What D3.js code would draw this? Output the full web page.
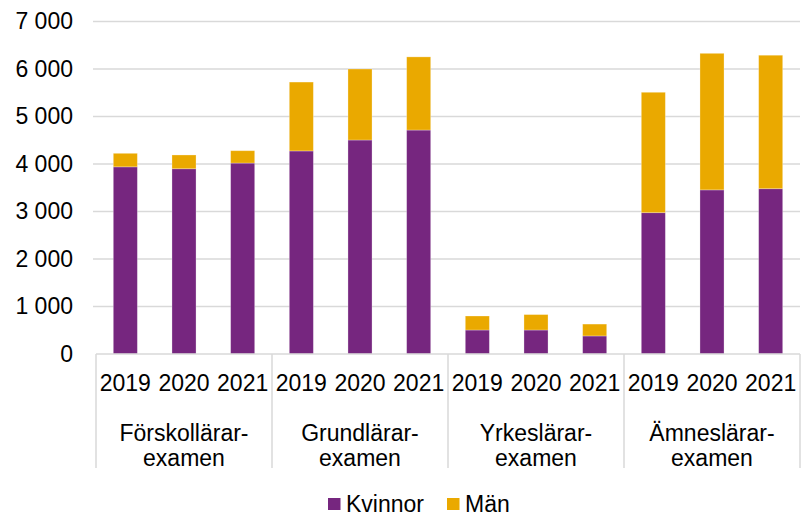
<!DOCTYPE html>
<html>
<head>
<meta charset="utf-8">
<script src="https://cdn.jsdelivr.net/npm/d3@7"></script>
<style>
  body { margin: 0; background: #fff; }
  text { font-family: "Liberation Sans", Arial, sans-serif; fill: #000; }
</style>
</head>
<body>
<div id="chart"></div>
<script>
'use strict';

// data
var groups = ['Förskollärar-|examen', 'Grundlärar-|examen', 'Yrkeslärar-|examen', 'Ämneslärar-|examen'];
var years = ['2019', '2020', '2021'];
var kvinnor = [
  [3940, 3900, 4020],
  [4275, 4505, 4715],
  [505, 505, 380],
  [2975, 3455, 3480]
];
var man = [
  [285, 290, 260],
  [1450, 1495, 1540],
  [295, 325, 250],
  [2535, 2875, 2810]
];
var yTicks = [0, 1000, 2000, 3000, 4000, 5000, 6000, 7000];
var seriesNames = ['Kvinnor', 'Män'];
var colors = ['#76267f', '#eaa900'];

var W = 803, H = 516;
var margin = {top: 21.5, right: 3, bottom: 162, left: 96};
var width = W - margin.left - margin.right,
    height = H - margin.top - margin.bottom;
var fs = '23px';

var svg = d3.select('#chart').append('svg')
    .attr('width', W)
    .attr('height', H);

var g = svg.append('g')
    .attr('transform', 'translate(' + margin.left + ',' + margin.top + ')');

var x0 = d3.scaleBand().domain(d3.range(groups.length)).range([0, width]);
var x1 = d3.scaleBand().domain(years).range([0, x0.bandwidth()]).paddingInner(0.59).paddingOuter(0.295);
var y = d3.scaleLinear().domain([0, 7000]).range([height, 0]);

var fmt = d3.formatLocale({decimal: ',', thousands: ' ', grouping: [3], currency: ['', '']}).format(',d');

// gridlines
g.append('g')
  .selectAll('line')
  .data(yTicks.slice(1))
  .enter().append('line')
    .attr('x1', -3).attr('x2', width)
    .attr('y1', function(d) { return y(d); })
    .attr('y2', function(d) { return y(d); })
    .attr('stroke', '#d9d9d9')
    .attr('stroke-width', 1.5);

// y axis labels
var yAxis = g.append('g')
    .call(d3.axisLeft(y).tickValues(yTicks).tickFormat(fmt).tickSize(0).tickPadding(23));
yAxis.select('.domain').remove();
yAxis.selectAll('text').style('font-size', fs).attr('fill', '#000')
    .style('font-family', '"Liberation Sans", Arial, sans-serif');

// build stacked rows
var rows = [];
groups.forEach(function(gr, gi) {
  years.forEach(function(yr, yi) {
    rows.push({g: gi, year: yr, values: [kvinnor[gi][yi], man[gi][yi]]});
  });
});

var stack = d3.stack().keys([0, 1]).value(function(d, k) { return d.values[k]; });
var stacked = stack(rows);

g.append('g')
  .selectAll('g')
  .data(stacked)
  .enter().append('g')
    .attr('fill', function(d, i) { return colors[i]; })
  .selectAll('rect')
  .data(function(d) { return d; })
  .enter().append('rect')
    .attr('x', function(d) { return x0(d.data.g) + x1(d.data.year); })
    .attr('width', x1.bandwidth())
    .attr('y', function(d) { return y(d[1]); })
    .attr('height', function(d) { return y(d[0]) - y(d[1]); })
    .attr('stroke', 'rgba(255,255,255,0.35)')
    .attr('stroke-width', 0.8);

// category axis
var axis = g.append('g').attr('transform', 'translate(0,' + height + ')');
axis.append('line')
    .attr('x1', 0).attr('x2', width)
    .attr('stroke', '#d9d9d9').attr('stroke-width', 1.5);
axis.selectAll('.sep')
  .data(d3.range(groups.length + 1))
  .enter().append('line')
    .attr('class', 'sep')
    .attr('x1', function(d) { return d < groups.length ? x0(d) : width; })
    .attr('x2', function(d) { return d < groups.length ? x0(d) : width; })
    .attr('y1', 0).attr('y2', 114)
    .attr('stroke', '#d9d9d9').attr('stroke-width', 1.5);

axis.selectAll('.yr')
  .data(rows)
  .enter().append('text')
    .attr('class', 'yr')
    .attr('x', function(d) { return x0(d.g) + x1(d.year) + x1.bandwidth() / 2; })
    .attr('y', 37)
    .attr('text-anchor', 'middle')
    .style('font-size', fs)
    .text(function(d) { return d.year; });

var gl = axis.selectAll('.grp')
  .data(groups)
  .enter().append('text')
    .attr('class', 'grp')
    .attr('text-anchor', 'middle')
    .style('font-size', fs);
gl.selectAll('tspan')
  .data(function(d, i) { return d.split('|').map(function(s, j) { return {s: s, i: i, j: j}; }); })
  .enter().append('tspan')
    .attr('x', function(d) { return x0(d.i) + x0.bandwidth() / 2; })
    .attr('y', function(d) { return 87 + d.j * 24.5; })
    .text(function(d) { return d.s; });

// legend
var legend = svg.append('g').attr('transform', 'translate(328,498)');
var lx = [0, 119];
seriesNames.forEach(function(name, i) {
  legend.append('rect')
      .attr('x', lx[i]).attr('y', 0)
      .attr('width', 12.5).attr('height', 12)
      .attr('fill', colors[i]);
  legend.append('text')
      .attr('x', lx[i] + 18).attr('y', 13.5)
      .style('font-size', fs)
      .text(name);
});
</script>
</body>
</html>
